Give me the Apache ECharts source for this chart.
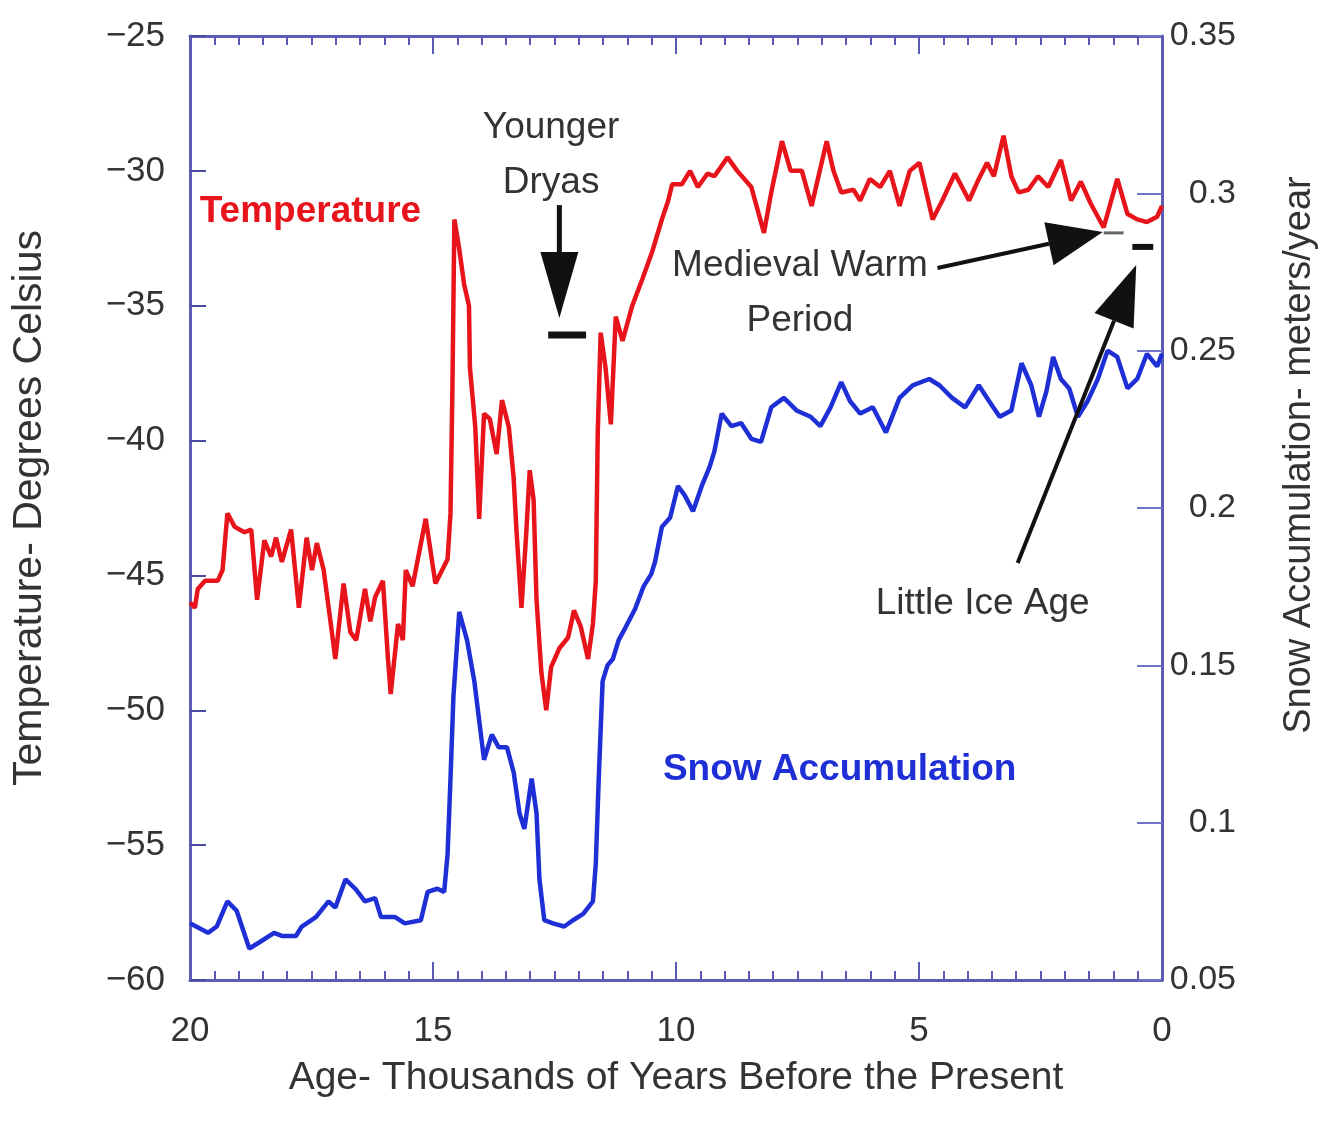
<!DOCTYPE html>
<html><head><meta charset="utf-8">
<script src="https://cdn.jsdelivr.net/npm/echarts@6/dist/echarts.min.js"></script>
<style>html,body{margin:0;padding:0;background:#fff;overflow:hidden}#c{width:1327px;height:1127px}</style>
</head><body><div id="c"></div>
<script>
// ---- Data (age in thousands of years before present) ----
const tempAge = [20.00,19.90,19.84,19.69,19.43,19.33,19.23,19.08,18.88,18.74,18.62,18.47,18.33,18.23,18.11,17.92,17.76,17.60,17.49,17.39,17.25,17.11,17.01,16.84,16.70,16.58,16.40,16.29,16.19,16.03,15.93,15.87,15.72,15.62,15.56,15.42,15.15,14.95,14.70,14.64,14.60,14.56,14.46,14.36,14.26,14.24,14.13,14.05,13.95,13.83,13.69,13.58,13.44,13.34,13.28,13.18,13.08,13.01,12.93,12.87,12.77,12.67,12.57,12.40,12.22,12.10,11.96,11.81,11.71,11.65,11.61,11.55,11.45,11.34,11.24,11.10,10.90,10.69,10.49,10.29,10.16,10.08,9.88,9.71,9.55,9.35,9.21,8.94,8.74,8.45,8.19,8.04,7.82,7.64,7.41,7.21,6.90,6.76,6.60,6.35,6.21,6.01,5.80,5.60,5.40,5.19,4.99,4.72,4.52,4.26,3.97,3.77,3.60,3.46,3.26,3.10,2.95,2.75,2.55,2.34,2.08,1.87,1.67,1.47,1.20,0.92,0.71,0.51,0.31,0.10,0.00];
const tempVal = [-46.0,-46.2,-45.5,-45.2,-45.2,-44.8,-42.7,-43.2,-43.4,-43.3,-45.9,-43.7,-44.3,-43.6,-44.5,-43.3,-46.2,-43.6,-44.8,-43.8,-44.8,-46.7,-48.1,-45.3,-47.1,-47.4,-45.5,-46.7,-45.8,-45.2,-48.0,-49.4,-46.8,-47.4,-44.8,-45.4,-42.9,-45.3,-44.4,-42.7,-38.0,-31.8,-32.9,-34.2,-35.0,-37.3,-39.5,-42.9,-39.0,-39.2,-40.5,-38.5,-39.5,-41.4,-43.4,-46.2,-43.4,-41.1,-42.2,-45.9,-48.6,-50.0,-48.4,-47.7,-47.3,-46.3,-46.9,-48.1,-46.8,-45.2,-39.7,-36.0,-37.3,-39.4,-35.4,-36.3,-35.0,-34.0,-33.0,-31.8,-31.1,-30.5,-30.5,-30.0,-30.6,-30.1,-30.2,-29.5,-30.0,-30.6,-32.3,-30.8,-28.9,-30.0,-30.0,-31.3,-28.9,-30.0,-30.8,-30.7,-31.1,-30.3,-30.6,-30.0,-31.3,-30.0,-29.7,-31.8,-31.1,-30.1,-31.1,-30.3,-29.7,-30.2,-28.7,-30.2,-30.8,-30.7,-30.2,-30.6,-29.6,-31.1,-30.4,-31.2,-32.1,-30.3,-31.6,-31.8,-31.9,-31.7,-31.3];
const snowAge = [20.00,19.63,19.45,19.23,19.04,18.78,18.57,18.27,18.11,17.82,17.70,17.41,17.15,17.01,16.80,16.60,16.40,16.19,16.07,15.78,15.58,15.25,15.11,14.91,14.77,14.70,14.64,14.58,14.46,14.30,14.15,14.03,13.95,13.79,13.65,13.48,13.34,13.22,13.12,12.97,12.87,12.81,12.71,12.53,12.30,12.12,11.91,11.71,11.65,11.59,11.51,11.41,11.30,11.18,11.04,10.84,10.67,10.51,10.43,10.29,10.12,9.96,9.82,9.65,9.47,9.31,9.21,9.06,8.86,8.66,8.45,8.25,8.04,7.78,7.52,7.23,7.03,6.82,6.60,6.42,6.21,5.95,5.68,5.40,5.13,4.79,4.58,4.32,4.05,3.77,3.56,3.34,3.10,2.89,2.69,2.53,2.38,2.24,2.08,1.91,1.73,1.53,1.32,1.12,0.92,0.71,0.51,0.31,0.10,0.00];
const snowVal = [0.068,0.065,0.067,0.075,0.072,0.060,0.062,0.065,0.064,0.064,0.067,0.070,0.075,0.073,0.082,0.079,0.075,0.076,0.070,0.070,0.068,0.069,0.078,0.079,0.078,0.090,0.114,0.140,0.167,0.158,0.145,0.130,0.120,0.128,0.124,0.124,0.116,0.103,0.098,0.114,0.103,0.082,0.069,0.068,0.067,0.069,0.071,0.075,0.087,0.114,0.145,0.150,0.152,0.158,0.162,0.168,0.175,0.179,0.183,0.194,0.197,0.207,0.204,0.199,0.207,0.213,0.218,0.230,0.226,0.227,0.222,0.221,0.232,0.235,0.231,0.229,0.226,0.232,0.240,0.234,0.230,0.232,0.224,0.235,0.239,0.241,0.239,0.235,0.232,0.239,0.234,0.229,0.231,0.246,0.239,0.229,0.237,0.248,0.241,0.238,0.229,0.234,0.241,0.250,0.248,0.238,0.241,0.249,0.245,0.249];
const ageTicks = [20, 15, 10, 5, 0];
const tempTicks = [-60, -55, -50, -45, -40, -35, -30, -25];
const snowTicks = [0.05, 0.1, 0.15, 0.2, 0.25, 0.3, 0.35];

// ---- Annotations, anchored in data coordinates (age, temperature) ----
const textNotes = [
  {text: 'Temperature', age: 19.80, t: -31.53, align: 'left', color: '#e8141b', bold: true},
  {text: 'Snow Accumulation', age: 10.27, t: -52.22, align: 'left', color: '#1f2fd6', bold: true},
  {text: 'Younger\nDryas', age: 12.57, t: -29.43, align: 'center'},
  {text: 'Medieval Warm\nPeriod', age: 7.45, t: -34.53, align: 'center'},
  {text: 'Little Ice Age', age: 3.69, t: -46.06, align: 'center'}
];
const arrowNotes = [
  {from: [12.40, -31.27], to: [12.40, -35.46], head: 66, half: 19, width: 5},
  {from: [4.62, -33.60], to: [1.22, -32.27], head: 55, half: 22, width: 4},
  {from: [2.97, -44.54], to: [0.53, -33.49], head: 60, half: 21, width: 4}
];
const barNotes = [
  {from: [12.63, -36.09], to: [11.85, -36.09], width: 7, color: '#111'},
  {from: [1.20, -32.30], to: [0.79, -32.30], width: 3, color: '#666'},
  {from: [0.61, -32.82], to: [0.18, -32.82], width: 6, color: '#111'}
];

const FONT = 'Liberation Sans, Arial, Helvetica, sans-serif';
const frameColor = '#5c5cb6';
const labelColor = '#333333';

const chart = echarts.init(document.getElementById('c'), null, {renderer: 'canvas', width: 1327, height: 1127});

function xAxisCfg(pos, showLabel) {
  return {
    type: 'value', min: 0, max: 20, interval: 5, inverse: true, position: pos,
    axisLine: {show: true, onZero: false, lineStyle: {color: frameColor, width: 3}},
    axisTick: {show: true, inside: true, length: 18, lineStyle: {color: frameColor, width: 2}},
    minorTick: {show: true, splitNumber: 10, length: 9, lineStyle: {color: frameColor, width: 2}},
    axisLabel: {show: showLabel, margin: 34, fontSize: 35, color: labelColor, fontFamily: FONT,
      formatter: v => ageTicks.includes(v) ? String(v) : ''},
    splitLine: {show: false}, minorSplitLine: {show: false}
  };
}

const bottomX = xAxisCfg('bottom', true);
bottomX.name = 'Age- Thousands of Years Before the Present';
bottomX.nameLocation = 'middle';
bottomX.nameGap = 79;
bottomX.nameTextStyle = {fontSize: 39, color: labelColor, fontFamily: FONT};

chart.setOption({
  animation: false,
  backgroundColor: '#ffffff',
  grid: {left: 190, top: 36, width: 983, height: 944, containLabel: false},
  xAxis: [bottomX, xAxisCfg('top', false)],
  yAxis: [
    {
      type: 'value', min: tempTicks[0], max: tempTicks[tempTicks.length - 1], interval: 5, position: 'left',
      axisLine: {show: true, onZero: false, lineStyle: {color: frameColor, width: 3}},
      axisTick: {show: true, inside: true, length: 16, lineStyle: {color: '#4a4aa0', width: 2}},
      axisLabel: {margin: 25, fontSize: 35, color: labelColor, fontFamily: FONT,
        formatter: v => String(v).replace('-', '\u2212')},
      splitLine: {show: false},
      name: 'Temperature- Degrees Celsius', nameLocation: 'middle', nameGap: 140, nameRotate: 90,
      nameTextStyle: {fontSize: 41, color: labelColor, fontFamily: FONT}
    },
    {
      type: 'value', min: snowTicks[0], max: snowTicks[snowTicks.length - 1], interval: 0.05, position: 'right',
      axisLine: {show: true, onZero: false, lineStyle: {color: frameColor, width: 3}},
      axisTick: {show: true, inside: true, length: 25, lineStyle: {color: '#7272c8', width: 2}},
      axisLabel: {margin: 74, align: 'right', fontSize: 34, color: labelColor, fontFamily: FONT,
        formatter: v => String(parseFloat(v.toFixed(2)))},
      splitLine: {show: false},
      name: 'Snow Accumulation- meters/year', nameLocation: 'middle', nameGap: 119, nameRotate: 90,
      nameTextStyle: {fontSize: 38, color: labelColor, fontFamily: FONT, padding: [0, 0, 0, 106]}
    }
  ],
  series: [
    {
      name: 'Temperature', type: 'line', xAxisIndex: 0, yAxisIndex: 0, showSymbol: false, symbol: 'none',
      data: tempAge.map((a, i) => [a, tempVal[i]]),
      lineStyle: {color: '#e8141b', width: 4.5}, z: 3
    },
    {
      name: 'Snow Accumulation', type: 'line', xAxisIndex: 0, yAxisIndex: 1, showSymbol: false, symbol: 'none',
      data: snowAge.map((a, i) => [a, snowVal[i]]),
      lineStyle: {color: '#1f2fd6', width: 4.5}, z: 3
    }
  ]
});

// ---- Build annotation graphics from the axes' own scales ----
const toPx = (age, t) => chart.convertToPixel({xAxisIndex: 0, yAxisIndex: 0}, [age, t]);
const g = [];
textNotes.forEach(n => {
  const p = toPx(n.age, n.t);
  g.push({type: 'text', x: p[0], y: p[1], z: 10, style: {
    text: n.text, fill: n.color || '#333', font: (n.bold ? 'bold 37px ' : '37px ') + FONT,
    textAlign: n.align, textVerticalAlign: 'middle', lineHeight: 55
  }});
});
barNotes.forEach(b => {
  const p0 = toPx(b.from[0], b.from[1]), p1 = toPx(b.to[0], b.to[1]);
  g.push({type: 'line', z: 10, shape: {x1: p0[0], y1: p0[1], x2: p1[0], y2: p1[1]},
    style: {stroke: b.color, lineWidth: b.width}});
});
arrowNotes.forEach(a => {
  const p0 = toPx(a.from[0], a.from[1]), p1 = toPx(a.to[0], a.to[1]);
  const dx = p1[0] - p0[0], dy = p1[1] - p0[1], len = Math.hypot(dx, dy);
  const ux = dx / len, uy = dy / len, nx = -uy, ny = ux;
  const bx = p1[0] - ux * a.head, by = p1[1] - uy * a.head;
  g.push({type: 'line', z: 10, shape: {x1: p0[0], y1: p0[1], x2: bx, y2: by},
    style: {stroke: '#111', lineWidth: a.width}});
  g.push({type: 'polygon', z: 10, shape: {points: [[p1[0], p1[1]], [bx + nx * a.half, by + ny * a.half], [bx - nx * a.half, by - ny * a.half]]},
    style: {fill: '#111'}});
});
chart.setOption({graphic: g});
</script>
</body></html>
